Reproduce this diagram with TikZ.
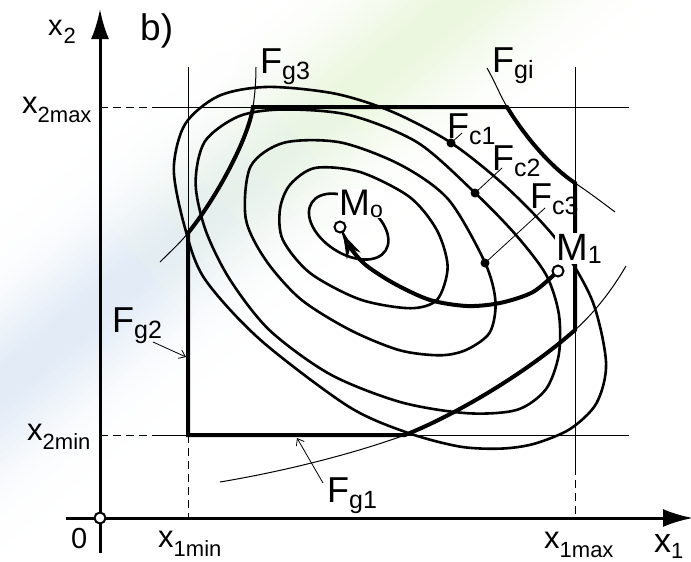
\documentclass[tikz,border=0pt]{standalone}
\usepackage{fontspec}
\setmainfont{Liberation Sans}
\usetikzlibrary{arrows.meta}
\definecolor{bgblue}{RGB}{175,200,230}
\definecolor{bggreen}{RGB}{200,232,165}
\newcommand\fsub[1]{\raisebox{-6pt}{\fontsize{25}{25}\selectfont #1}}
\newcommand\xsub[1]{\raisebox{-9pt}{\fontsize{22}{22}\selectfont #1}}
\begin{document}
\begin{tikzpicture}[x=1pt,y=-1pt,
  thinln/.style={line width=1pt},
  dashln/.style={line width=1pt, dash pattern=on 8pt off 5pt},
  contour/.style={line width=2.6pt},
  bnd/.style={line width=4pt, line join=miter},
  axisln/.style={line width=3pt},
  flab/.style={inner sep=0pt, anchor=base west, font=\fontsize{36}{36}\selectfont},
  xlab/.style={inner sep=0pt, anchor=base west, font=\fontsize{31}{31}\selectfont},
  dotmark/.style={circle, fill=black, inner sep=0pt, minimum size=9pt},
  opencirc/.style={circle, draw=black, fill=white, line width=2pt, inner sep=0pt, minimum size=11pt},
  leader/.style={line width=0.8pt},
  barb/.style={leader, -{Straight Barb[length=6pt,width=9pt]}},
]
\useasboundingbox (0,0) rectangle (691,562);
\fill[white] (0,0) rectangle (691,562);
% background streak
\begin{scope}[shift={(220,200)}, rotate=40]
  \foreach \u in {-700,-650,...,650}{
    \pgfmathsetmacro\mixv{max(0,min(100,(\u+150)/3))}
    \foreach \o in {-150,-144,...,150}{
      \pgfmathsetmacro\tint{36*exp(-(\o/62)^2)}
      \fill[bggreen!\mixv!bgblue!\tint!white] (\u,\o) rectangle (\u+50.5,\o+6.5);
    }
  }
\end{scope}

% coordinates
\coordinate (O) at (100,518);
\coordinate (fc1) at (451,143);
\coordinate (fc2) at (475,193);
\coordinate (fc3) at (485,263);
\coordinate (m0) at (340,227);
\coordinate (m1) at (558,271);

% limit lines
\draw[dashln] (100,107) -- (155,107);
\draw[thinln] (155,107) -- (629,107);
\draw[dashln] (100,435) -- (158,435);
\draw[thinln] (158,435) -- (629,435);
\draw[thinln] (188,67) -- (188,435);
\draw[dashln] (188,435) -- (188,518);
\draw[thinln] (575,67) -- (575,467);
\draw[dashln] (575,467) -- (575,518);

% contours (level lines), drawn in a frame along the valley axis
\begin{scope}[shift={(379,257)}, rotate=-33]
\draw[contour] plot[smooth cycle] coordinates {(-235,-6) (-222,-48) (-186,-82) (-126,-113) (-68,-129) (-2,-135) (69,-128) (140,-111) (202,-80) (248,-35) (262,4) (254,40) (232,72) (207,94) (171,115) (119,132) (55,142) (-55,134) (-135,113) (-180,80) (-220,38)};
\draw[contour] plot[smooth cycle] coordinates {(-209,-2) (-194,-42) (-160,-72) (-102,-103) (-30,-117) (46,-106) (103,-93) (150,-76) (182,-50) (204,-16) (212,20) (199,53) (159,83) (97,110) (23,125) (-52,121) (-113,100) (-160,72) (-194,38)};
\draw[contour] plot[smooth cycle] coordinates {(-157,-6) (-142,-44) (-95,-75) (-32,-89) (27,-86) (92,-53) (122,-26) (134,3) (124,30) (105,49) (68,67) (15,77) (-43,78) (-94,64) (-133,40)};
\draw[contour] plot[smooth cycle] coordinates {(-114,-12) (-102,-40) (-62,-61) (-7,-67) (34,-54) (63,-29) (72,4) (54,26) (7,46) (-49,51) (-90,38) (-109,14)};
\draw[contour] (-42,-9) ellipse [x radius=44pt, y radius=27pt];
\end{scope}

% constraint curves (thin parts)
\draw[thinln] (160,262) .. controls (170,252) and (180,243) .. (188,233);
\draw[thinln] (253,107) .. controls (255,94) and (256,80) .. (256,67);
\draw[thinln] (487,68) .. controls (495,82) and (500,95) .. (507,107);
\draw[thinln] (575,183) .. controls (590,193) and (603,203) .. (615,212);
\draw[thinln] (220,482) .. controls (280,472) and (350,455) .. (405,435);
\draw[thinln] (575,330) .. controls (595,312) and (612,290) .. (626,266);

% feasible region boundary
\draw[bnd] (188,233) .. controls (215,200) and (248,140) .. (253,107) -- (507,107)
  .. controls (522,132) and (548,165) .. (575,183) -- (575,330)
  .. controls (530,370) and (460,413) .. (405,435) -- (188,435) -- cycle;

% axes
\draw[axisln, -{Latex[length=30pt,width=18pt]}] (100,553) -- (100,9);
\draw[axisln, -{Latex[length=30pt,width=18pt]}] (66,518) -- (693,518);
\node[opencirc] (origin) at (O) {};

% trajectory
\draw[line width=4pt, -{Stealth[length=24pt,width=15pt]}] plot[smooth] coordinates {(558,271) (533,292) (500,303) (467,306) (430,300) (395,284) (367,266) (352,250) (343,234)};

% markers
\node[dotmark] (d1) at (fc1) {};
\node[dotmark] (d2) at (fc2) {};
\node[dotmark] (d3) at (fc3) {};
\coordinate (l1) at (462,133);
\coordinate (l2) at (502,168);
\coordinate (l3) at (545,208);
\draw[leader] (d1.center) -- (l1);
\draw[leader] (d2.center) -- (l2);
\draw[leader] (d3.center) -- (l3);

% labels
\node[flab] (tfc1) at (447,138) {F\fsub{c1}};
\node[flab] (tfc2) at (492,170) {F\fsub{c2}};
\node[flab] (tfc3) at (530,208) {F\fsub{c3}};
\node[flab] (tfgi) at (492,72) {F\fsub{gi}};
\node[flab] (tfg3) at (260,73) {F\fsub{g3}};
\node[flab] (tfg2) at (112,332) {F\fsub{g2}};
\node[flab] (tfg1) at (327,502) {F\fsub{g1}};
\coordinate (g2a) at (153,342);
\coordinate (g2b) at (186,357);
\coordinate (g1a) at (323,483);
\coordinate (g1b) at (297,438);
\draw[barb] (g2a) -- (g2b);
\draw[barb] (g1a) -- (g1b);

\node[inner sep=1pt, fill=white, anchor=base west, font=\fontsize{37}{37}\selectfont] (tm0) at (338,215) {M\raisebox{-2pt}{\fontsize{23}{23}\selectfont o}};
\node[inner sep=1pt, fill=white, anchor=base west, font=\fontsize{38}{38}\selectfont] (tm1) at (555,260) {M\raisebox{-3pt}{\fontsize{25}{25}\selectfont 1}};
\node[opencirc] (cm0) at (m0) {};
\node[opencirc] (cm1) at (m1) {};

\node[inner sep=0pt, anchor=base west, font=\fontsize{29}{29}\selectfont] (tx2) at (48,35) {x\kern1pt\raisebox{-8pt}{\fontsize{22}{22}\selectfont 2}};
\node[inner sep=0pt, anchor=base west, font=\fontsize{37}{37}\selectfont] (tb) at (140,40) {b)};
\node[xlab] (tx2max) at (22,113) {x\xsub{2max}};
\node[xlab] (tx2min) at (27,440) {x\xsub{2min}};
\node[xlab] (tx1min) at (158,547) {x\xsub{1min}};
\node[xlab] (tx1max) at (544,548) {x\xsub{1max}};
\node[inner sep=0pt, anchor=base west, font=\fontsize{34}{34}\selectfont] (tx1) at (654,552) {x\raisebox{-6pt}{\fontsize{22}{22}\selectfont 1}};
\node[inner sep=0pt, anchor=base west, font=\fontsize{29}{29}\selectfont] (t0) at (71,548) {0};
\end{tikzpicture}
\end{document}
